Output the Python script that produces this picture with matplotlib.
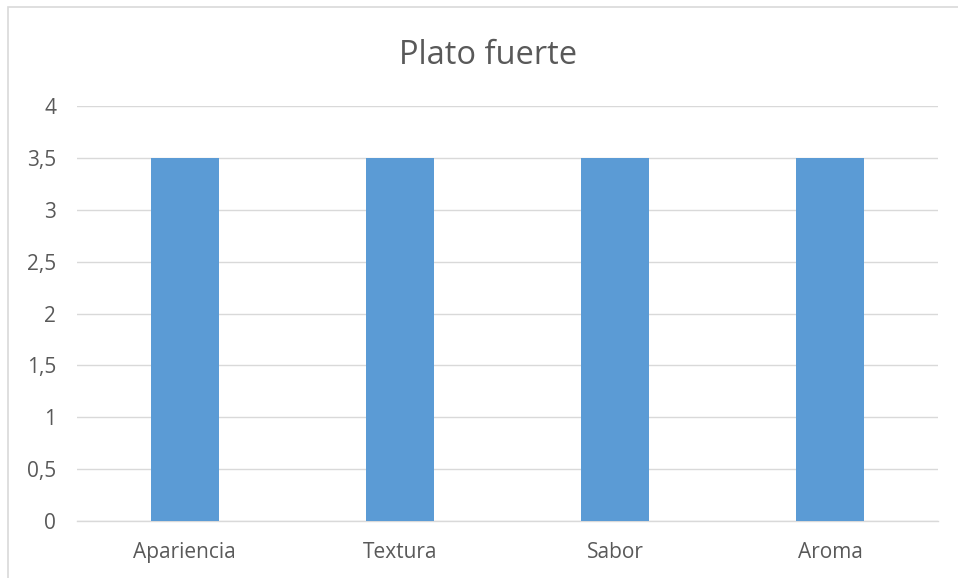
import matplotlib
matplotlib.use("Agg")
import matplotlib.pyplot as plt
from matplotlib.patches import Rectangle
from matplotlib.ticker import FuncFormatter

categories = ["Apariencia", "Textura", "Sabor", "Aroma"]
values = [3.5, 3.5, 3.5, 3.5]
y_ticks = [0, 0.5, 1, 1.5, 2, 2.5, 3, 3.5, 4]

text_color = "#595959"
grid_color = "#d9d9d9"
bar_color = "#5b9bd5"

plt.rcParams["font.family"] = ["Open Sans", "DejaVu Sans"]

fig = plt.figure(figsize=(9.58, 5.78), dpi=100)
ax = fig.add_axes([77 / 958, 1 - 521 / 578, 861 / 958, 415 / 578])

# chart frame: only the top and left edges fall inside the canvas
fig.patches.append(Rectangle((7.5 / 958, -0.1), 1.2, 1 - 7.5 / 578 + 0.1,
                             transform=fig.transFigure, fill=False,
                             edgecolor=grid_color, linewidth=1.2))

x = range(len(categories))
ax.bar(x, values, width=0.315, color=bar_color, zorder=3)

ax.set_xlim(-0.5, len(categories) - 0.5)
ax.set_ylim(0, 4)
ax.set_yticks(y_ticks)
ax.yaxis.set_major_formatter(FuncFormatter(lambda v, _: f"{v:g}".replace(".", ",")))
ax.set_xticks(list(x))
ax.set_xticklabels(categories)

ax.grid(axis="y", color=grid_color, linewidth=1, zorder=0)
ax.tick_params(axis="both", length=0, colors=text_color, labelsize=15)
ax.tick_params(axis="y", pad=15)
ax.tick_params(axis="x", pad=15)
for side in ["top", "right", "left"]:
    ax.spines[side].set_visible(False)
ax.spines["bottom"].set_color(grid_color)
ax.spines["bottom"].set_linewidth(1)

fig.text(488 / 958, 1 - 55 / 578, "Plato fuerte", ha="center", va="center",
         fontsize=23.5, color=text_color)

fig.savefig("out.png", dpi=100)
